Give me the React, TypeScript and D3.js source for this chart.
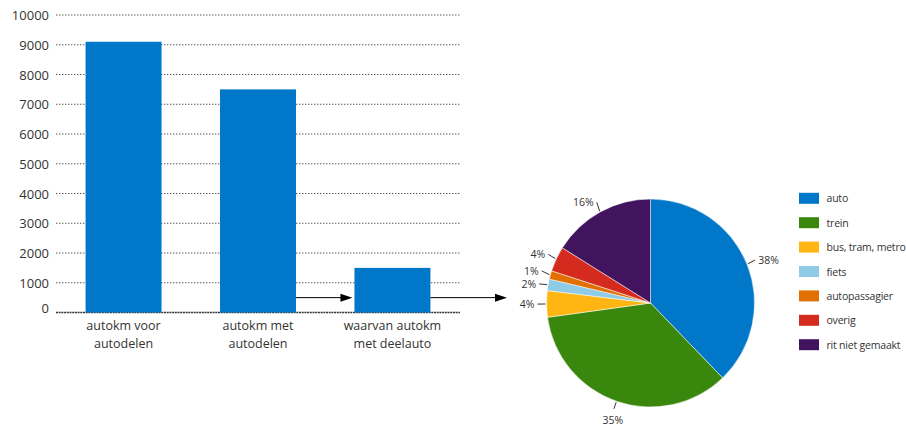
import React from "react";
import * as d3 from "d3";

const barCategories: string[][] = [
  ["autokm voor", "autodelen"],
  ["autokm met", "autodelen"],
  ["waarvan autokm", "met deelauto"],
];
const barValues = [9100, 7500, 1500];
const yTicks = [0, 1000, 2000, 3000, 4000, 5000, 6000, 7000, 8000, 9000, 10000];

const pieLabels = ["auto", "trein", "bus, tram, metro", "fiets", "autopassagier", "overig", "rit niet gemaakt"];
const pieValues = [37.8, 35.0, 4.1, 1.8, 1.3, 3.9, 16.1];
const pieColors = ["#0077c8", "#39870c", "#ffb612", "#8fcae7", "#e17000", "#d52b1e", "#42145f"];
const pieText = ["38%", "35%", "4%", "2%", "1%", "4%", "16%"];

const arrowLevel = 500;

const W = 906;
const H = 426;
const FONT = "'Open Sans', 'Noto Sans', sans-serif";
const TXT = "#333";

export default function App() {
  const x0 = 56, x1 = 460;
  const y = d3.scaleLinear().domain([0, 10000]).range([312.5, 15]);
  const x = d3.scaleBand<number>().domain(d3.range(barValues.length)).range([x0, x1]).paddingInner(0.435).paddingOuter(0.22);

  const cx = 650.5, cy = 303, r = 104;
  const pie = d3.pie<number>().sort(null).value((d) => d)(pieValues);
  const arc = d3.arc<d3.PieArcDatum<number>>().innerRadius(0).outerRadius(r);

  const ay = y(arrowLevel);
  const b1 = x(1)! + x.bandwidth();
  const b2 = x(2)!;
  const b2r = x(2)! + x.bandwidth();

  const arrowHead = (tipX: number, yy: number) =>
    `M${tipX},${yy} L${tipX - 12},${yy - 4} L${tipX - 12},${yy + 4} Z`;

  // label layout
  const labels = pie.map((p, i) => {
    const a = (p.startAngle + p.endAngle) / 2;
    const s = Math.sin(a), c = -Math.cos(a);
    const bottom = Math.abs(s) < 0.45;
    return { i, s, c, bottom, tx: s * (r + 11), ty: c * (r + 11) };
  });
  // push apart left-side labels vertically
  const left = labels.filter((l) => !l.bottom && l.s < 0).sort((a, b) => a.ty - b.ty);
  for (let k = 0; k < 20; k++) {
    for (let j = 1; j < left.length; j++) {
      const gap = left[j].ty - left[j - 1].ty;
      if (gap < 13) {
        const d = (13 - gap) / 2;
        left[j].ty += d;
        left[j - 1].ty -= d;
      }
    }
  }

  return (
    <svg width={W} height={H} style={{ position: "absolute", left: 0, top: 0, background: "#fff" }} fontFamily={FONT}>
      {/* grid */}
      {yTicks.map((t) => (
        <g key={t}>
          <line x1={x0} x2={x1} y1={y(t)} y2={y(t)} stroke={t === 0 ? "#333" : "#555"} strokeWidth={t === 0 ? 1.4 : 1} strokeDasharray={t === 0 ? "2,0.7" : "1.4,1.6"} />
          <text x={49} y={y(t) - (t === 0 ? 5 : 0)} textAnchor="end" dominantBaseline="central" fontSize={13} fill={TXT}>
            {t}
          </text>
        </g>
      ))}
      {/* bars */}
      {barValues.map((v, i) => (
        <rect key={i} x={x(i)} y={y(v)} width={x.bandwidth()} height={y(0) - y(v)} fill="#0077c8" />
      ))}
      {barCategories.map((lines, i) => (
        <text key={i} x={x(i)! + x.bandwidth() / 2} textAnchor="middle" fontSize={12.5} fill={TXT}>
          {lines.map((l, j) => (
            <tspan key={j} x={x(i)! + x.bandwidth() / 2} y={329.5 + j * 18}>
              {l}
            </tspan>
          ))}
        </text>
      ))}
      {/* arrows */}
      <line x1={b1} x2={b2 - 8} y1={ay} y2={ay} stroke="#000" strokeWidth={1} />
      <path d={arrowHead(b2 - 2, ay)} fill="#000" />
      <line x1={b2r} x2={500} y1={ay} y2={ay} stroke="#000" strokeWidth={1} />
      <path d={arrowHead(507, ay)} fill="#000" />

      {/* pie */}
      <g transform={`translate(${cx},${cy})`}>
        {pie.map((p, i) => (
          <path key={i} d={arc(p)!} fill={pieColors[i]} stroke="#fff" strokeWidth={0.5} />
        ))}
        {labels.map((L) => {
          const { s, c, bottom, i } = L;
          const lx1 = s * (r + 1), ly1 = c * (r + 1);
          const lx2 = bottom ? s * (r + 8) : L.tx - (s > 0 ? 2 : -2);
          const ly2 = bottom ? c * (r + 8) : L.ty;
          return (
            <g key={i}>
              <line x1={lx1} y1={ly1} x2={lx2} y2={ly2} stroke="#333" strokeWidth={1} />
              <text
                x={bottom ? L.tx : L.tx + (s > 0 ? 1 : -1)}
                y={bottom ? L.ty + 4 : L.ty}
                textAnchor={bottom ? "middle" : s > 0 ? "start" : "end"}
                dominantBaseline={bottom ? "hanging" : "central"}
                fontSize={10.5}
                fill={TXT}
              >
                {pieText[i]}
              </text>
            </g>
          );
        })}
      </g>

      {/* legend */}
      {pieLabels.map((l, i) => (
        <g key={l} transform={`translate(799,${198.3 + i * 24.4})`}>
          <rect x={0} y={-5.5} width={20} height={11} fill={pieColors[i]} />
          <text x={27.5} y={0} dominantBaseline="central" fontSize={10.5} letterSpacing={-0.2} fill={TXT}>
            {l}
          </text>
        </g>
      ))}
    </svg>
  );
}
